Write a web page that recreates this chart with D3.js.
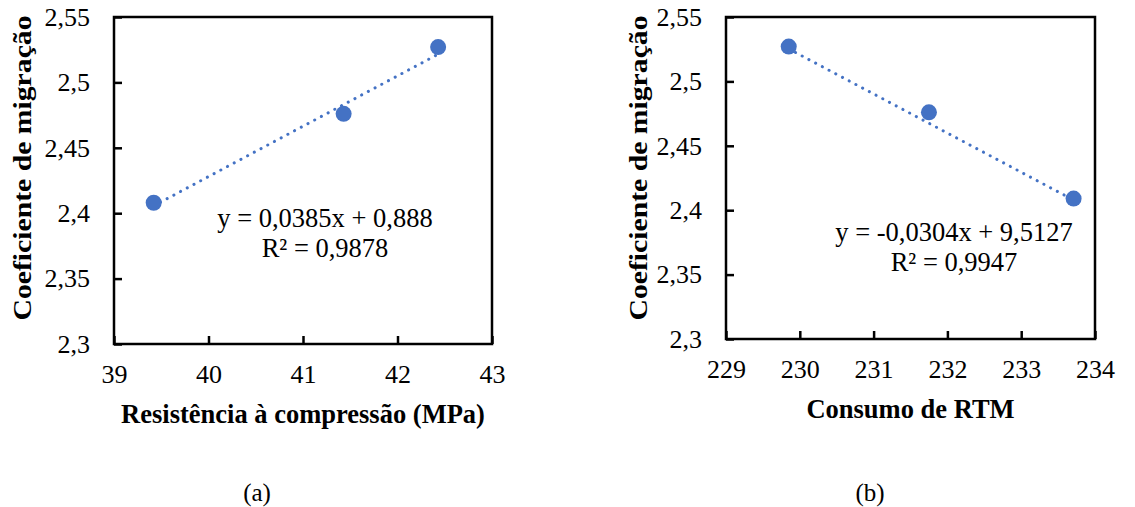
<!DOCTYPE html>
<html>
<head>
<meta charset="utf-8">
<script src="https://cdn.jsdelivr.net/npm/d3@7"></script>
<style>
  body { margin: 0; background: #fff; }
  svg { font-family: "Liberation Serif", "Times New Roman", serif; }
</style>
</head>
<body>
<svg width="1135" height="507"></svg>
<script>
/* Data */

var yTicks = [2.3, 2.35, 2.4, 2.45, 2.5, 2.55];

// (a) resistencia a compressao
var xA = [39.42, 41.43, 42.43];
var yA = [2.408, 2.476, 2.527];
var xTicksA = [39, 40, 41, 42, 43];
var fitA = [0.0385, 0.888];
var eqA = ["y = 0,0385x + 0,888", "R² = 0,9878"];

// (b) consumo de RTM
var xB = [229.85, 231.75, 233.71];
var yB = [2.527, 2.476, 2.409];
var xTicksB = [229, 230, 231, 232, 233, 234];
var fitB = [-0.0304, 9.5127];
var eqB = ["y = -0,0304x + 9,5127", "R² = 0,9947"];

/* Setup */

var svg = d3.select("svg");
var blue = "#4472c4";
var comma = (d) => String(d).replace(".", ",");

var panels = [
  {xs: xA, ys: yA, xt: xTicksA, fit: fitA, eq: eqA,
   box: {l: 114, t: 17, r: 492, b: 344},
   title: "Resistência à compressão (MPa)", eqPos: [325, 218],
   ylab: [22, 168], cap: "(a)", capX: 257},
  {xs: xB, ys: yB, xt: xTicksB, fit: fitB, eq: eqB,
   box: {l: 726, t: 17, r: 1095, b: 339},
   title: "Consumo de RTM", eqPos: [954, 232],
   ylab: [638, 168], cap: "(b)", capX: 870}
];

panels.forEach((p) => drawPanel(p));

function drawPanel(p) {
  var b = p.box;
  var x = d3.scaleLinear()
    .domain(d3.extent(p.xt))
    .range([b.l, b.r]);
  var y = d3.scaleLinear()
    .domain(d3.extent(yTicks))
    .range([b.b, b.t]);

  var g = svg.append("g");

  // axes, ticks pointing inward
  var ya = g.append("g")
    .attr("transform", `translate(${b.l},0)`)
    .call(d3.axisLeft(y).tickValues(yTicks).tickFormat(comma)
      .tickSize(-8).tickPadding(24));
  var xa = g.append("g")
    .attr("transform", `translate(0,${b.b})`)
    .call(d3.axisBottom(x).tickValues(p.xt).tickFormat(comma)
      .tickSize(-8).tickPadding(21));

  [ya, xa].forEach((a) => {
    a.attr("font-family", null).attr("font-size", null);
    a.select(".domain").remove();
    a.selectAll("line").attr("stroke", "#000").attr("stroke-width", 2.5);
    a.selectAll("text")
      .attr("font-size", 26)
      .attr("fill", "#000");
  });

  g.append("rect")
    .attr("x", b.l).attr("y", b.t)
    .attr("width", b.r - b.l).attr("height", b.b - b.t)
    .attr("fill", "none")
    .attr("stroke", "#000")
    .attr("stroke-width", 2.5);

  // trendline
  var x0 = d3.min(p.xs), x1 = d3.max(p.xs);
  g.append("line")
    .attr("x1", x(x0)).attr("y1", y(p.fit[0] * x0 + p.fit[1]))
    .attr("x2", x(x1)).attr("y2", y(p.fit[0] * x1 + p.fit[1]))
    .attr("stroke", blue)
    .attr("stroke-width", 3)
    .attr("stroke-linecap", "round")
    .attr("stroke-dasharray", "0.1 7.5");

  g.selectAll(".pt")
    .data(p.xs)
    .enter().append("circle")
    .attr("cx", (d) => x(d))
    .attr("cy", (d, i) => y(p.ys[i]))
    .attr("r", 8)
    .attr("fill", blue);

  // equation
  g.selectAll(".eq")
    .data(p.eq)
    .enter().append("text")
    .attr("x", p.eqPos[0])
    .attr("y", (d, i) => p.eqPos[1] + i * 30)
    .attr("text-anchor", "middle")
    .attr("dominant-baseline", "central")
    .attr("font-size", 26.5)
    .text((d) => d);

  // titles
  g.append("text")
    .attr("x", (b.l + b.r) / 2)
    .attr("y", b.b + 70)
    .attr("text-anchor", "middle")
    .attr("dominant-baseline", "central")
    .attr("font-size", 26.5)
    .attr("font-weight", "bold")
    .text(p.title);

  // y title is stretched along its length in the original
  g.append("text")
    .attr("transform", `translate(${p.ylab[0]},${p.ylab[1]}) rotate(-90)`)
    .attr("text-anchor", "middle")
    .attr("dominant-baseline", "central")
    .attr("font-size", 26)
    .attr("font-weight", "bold")
    .attr("textLength", 305)
    .attr("lengthAdjust", "spacingAndGlyphs")
    .text("Coeficiente de migração");

  g.append("text")
    .attr("x", p.capX)
    .attr("y", 492)
    .attr("text-anchor", "middle")
    .attr("dominant-baseline", "central")
    .attr("font-size", 25)
    .text(p.cap);
}
</script>
</body>
</html>
